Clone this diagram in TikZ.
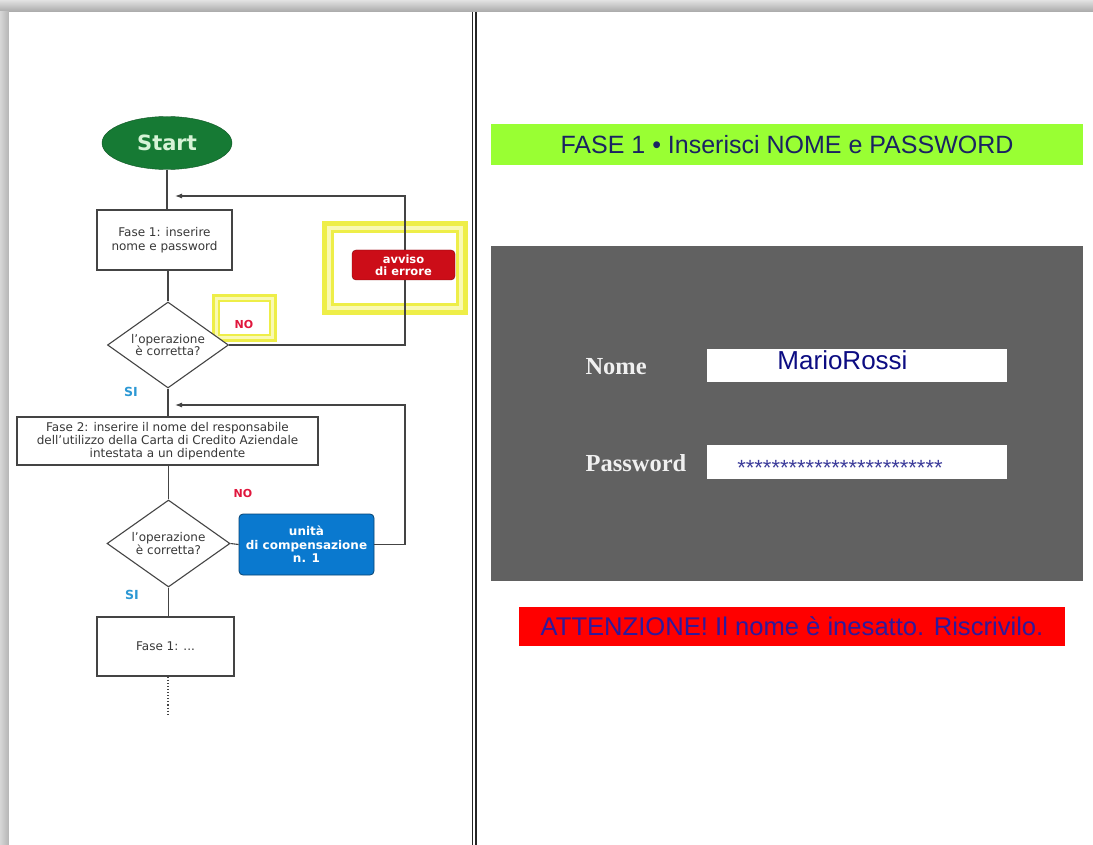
\documentclass[tikz,border=0pt]{standalone}
\usepackage{fontspec}
\setmainfont{DejaVu Sans}
\newfontfamily\arialf{Liberation Sans}
\newfontfamily\slabf{Liberation Serif}
\usetikzlibrary{shapes.geometric,arrows.meta}

\definecolor{frtop}{HTML}{E2E2E2}
\definecolor{frbot}{HTML}{A8A8A8}
\definecolor{frside}{HTML}{B4B4B4}
\definecolor{lnc}{HTML}{444444}
\definecolor{txc}{HTML}{383838}
\definecolor{startg}{HTML}{167A34}
\definecolor{startt}{HTML}{D6F3D6}
\definecolor{errred}{HTML}{CC0D18}
\definecolor{compblue}{HTML}{0A79CF}
\definecolor{nored}{HTML}{E0163C}
\definecolor{siblue}{HTML}{2C98D4}
\definecolor{hlyel}{HTML}{EEEE48}
\definecolor{hlpale}{HTML}{F9F9B4}
\definecolor{limeg}{HTML}{99FF33}
\definecolor{navy}{HTML}{1A2262}
\definecolor{panelg}{HTML}{616161}
\definecolor{fieldt}{HTML}{0C0C82}
\definecolor{warnt}{HTML}{2E1A9C}

\tikzset{
  flowbox/.style={draw=lnc, line width=1.1pt, fill=white, rectangle, inner sep=0pt,
    text=txc, align=center, font=\fontsize{12}{13.5}\selectfont},
  decision/.style={draw=lnc, line width=1.1pt, fill=white, diamond, inner sep=0pt,
    aspect=1.4, text=txc, align=center, font=\fontsize{12}{12.5}\selectfont},
  actbox/.style={rounded corners=4pt, inner sep=0pt, text=white, align=center,
    font=\bfseries\fontsize{11.5}{13}\selectfont},
  conn/.style={draw=lnc, line width=1.1pt},
  arr/.style={conn, -{Latex[length=7pt,width=5pt]}},
  nolabel/.style={text=nored, font=\bfseries\fontsize{11}{12}\selectfont},
  silabel/.style={text=siblue, font=\bfseries\fontsize{12.5}{13}\selectfont},
  highlight/.style={draw=hlyel, line width=12pt},
  hlinner/.style={draw=hlpale, line width=4pt},
  field/.style={fill=white, rectangle, inner sep=0pt},
  fieldlabel/.style={text=white!94!black, anchor=west, font=\slabf\bfseries\fontsize{24.5}{26}\selectfont},
}

\begin{document}
\begin{tikzpicture}[x=1pt,y=-1pt]
\useasboundingbox (0,0) rectangle (1093,845);

% page frame and sheet
\fill[frbot] (0,0) rectangle (1093,845);
\shade[top color=frtop, bottom color=frbot] (0,0) rectangle (1093,12);
\shade[left color=frtop!80!frbot, right color=frside] (0,12) rectangle (9,845);
\fill[white] (9,12) rectangle (1093,845);

% double divider
\draw[line width=1.3pt, color=black!85] (472.5,12) -- (472.5,845);
\draw[line width=1.3pt, color=black!85] (476,12) -- (476,845);

% ---------- flowchart ----------
% highlight frames
\draw[highlight, line width=8pt] (216,298) rectangle (273,338);
\draw[hlinner, line width=2.5pt] (216.5,298.5) rectangle (272.5,337.5);
\draw[highlight] (328,227) rectangle (462,309);
\draw[hlinner] (329,228) rectangle (461,308);

\node[ellipse, fill=startg, draw=startg!70!black, minimum width=130pt, minimum height=53pt,
      inner sep=0pt, text=startt, font=\bfseries\fontsize{21}{23}\selectfont] (start) at (167,143) {Start};

\node[flowbox, minimum width=135pt, minimum height=60pt] (f1) at (164.5,240)
  {Fase 1: inserire\\nome e password};

\node[decision, minimum width=121pt, minimum height=86pt] (d1) at (168,345)
  {l'operazione\\è corretta?};

\coordinate (loop1) at (405,196);
\coordinate (ret1) at (175,196);

\node[nolabel] (no1) at (244,324) {NO};
\node[silabel] (si1) at (131,392) {SI};

\node[flowbox, minimum width=301pt, minimum height=48pt, font=\fontsize{12}{13}\selectfont] (f2) at (167.5,441)
  {Fase 2: inserire il nome del responsabile\\dell'utilizzo della Carta di Credito Aziendale\\intestata a un dipendente};

\node[decision, minimum width=123pt, minimum height=87pt] (d2) at (168.5,543.5)
  {l'operazione\\è corretta?};

\coordinate (loop2) at (405,405);
\coordinate (ret2) at (175,405);

\node[nolabel] (no2) at (243,493) {NO};
\node[silabel] (si2) at (132,595) {SI};

\node[flowbox, minimum width=137pt, minimum height=59pt] (f3) at (165.5,646.5) {Fase 1: ...};
\coordinate (tail) at (168,716);

% connectors
\draw[conn] (start.south) -- (start.south |- f1.north);
\draw[conn] (d1.north |- f1.south) -- (d1.north);
\draw[arr] (d1.east) -| (loop1) -- (ret1);
\draw[conn] (d1.south) -- (d1.south |- f2.north);
\draw[conn] (d2.north |- f2.south) -- (d2.north);
\draw[conn] (d2.south) -- (d2.south |- f3.north);
\draw[conn, dotted] (tail |- f3.south) -- (tail);

\node[actbox, fill=errred, draw=errred!60!black, minimum width=103pt, minimum height=30pt] (err) at (403.5,265)
  {avviso\\[-1pt]di errore};

\node[actbox, fill=compblue, draw=compblue!55!black, line width=0.8pt, minimum width=135pt, minimum height=61pt,
      font=\bfseries\fontsize{12}{13.5}\selectfont] (comp) at (306.5,544.5)
  {unità\\di compensazione\\n. 1};

\draw[conn] (d2.east) -- (comp.west);
\draw[arr] (comp.east) -| (loop2) -- (ret2);

% ---------- login mock-up ----------
\node[fill=limeg, minimum width=592pt, minimum height=41pt, inner sep=0pt,
      text=navy, font=\arialf\fontsize{25}{27}\selectfont] (title) at (787,144.5)
  {FASE 1 • Inserisci NOME e PASSWORD};

\node[fill=panelg, minimum width=592pt, minimum height=335pt, inner sep=0pt] (panel) at (787,413.5) {};

\node[fieldlabel] (nomel) at (582,367) {Nome};
\node[field, minimum width=300pt, minimum height=33pt] (nomef) at (857,365.5) {};
\node[text=fieldt, font=\arialf\fontsize{26}{28}\selectfont] (nomev) at (842.5,360) {MarioRossi};

\node[fieldlabel] (passl) at (582,463) {Password};
\node[field, minimum width=300pt, minimum height=34pt] (passf) at (857,462) {};
\node[text=fieldt!80!white, font=\arialf\fontsize{22}{24}\selectfont] (passv) at (840,468)
  {************************};

\node[fill=red, minimum width=546pt, minimum height=39pt, inner sep=0pt,
      text=warnt, font=\arialf\fontsize{25.6}{27}\selectfont] (warn) at (792,626.5)
  {ATTENZIONE! Il nome è inesatto. Riscrivilo.};

\end{tikzpicture}
\end{document}
